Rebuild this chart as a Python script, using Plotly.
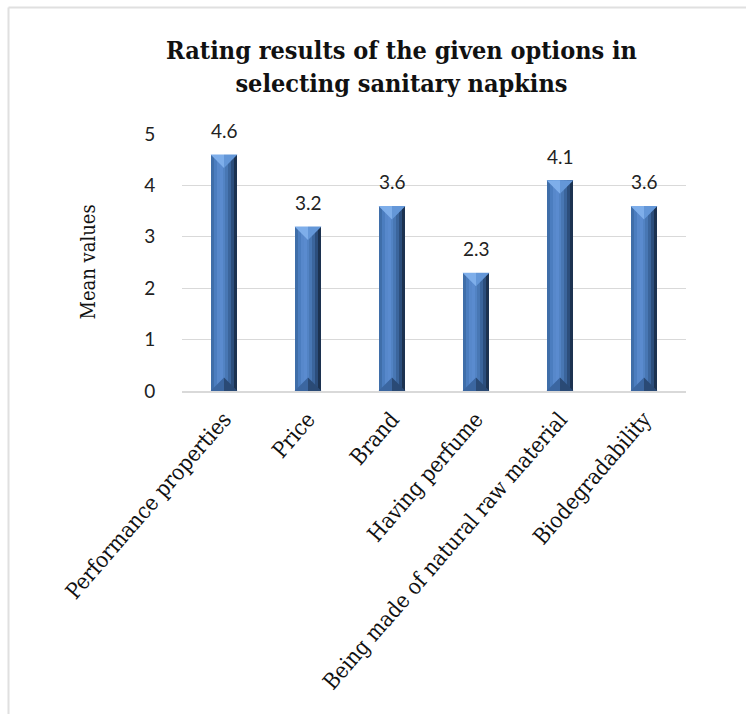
import plotly.graph_objects as go

# Survey data: mean rating for each option
categories = [
    "Performance properties",
    "Price",
    "Brand",
    "Having perfume",
    "Being made of natural raw material",
    "Biodegradability",
]
mean_values = [4.6, 3.2, 3.6, 2.3, 4.1, 3.6]
y_ticks = [0, 1, 2, 3, 4, 5]

# Figure geometry (pixels)
W, H = 746, 714
PL, PR = 182, 686      # plot area left/right
PT, PB = 134, 391      # plot area top/bottom
x_pos = list(range(len(categories)))
px_per_x = (PR - PL) / len(categories)
px_per_y = (PB - PT) / (y_ticks[-1] - y_ticks[0])

SERIF = "DejaVu Serif Condensed, DejaVu Serif, serif"
SANS = "Lato, Carlito, Liberation Sans, sans-serif"

fig = go.Figure()

# Bars: cylinder-like shading built from narrow overlaid strips
bar_w = 0.32
strip_colors = [
    "#3f6ea9", "#4b7dbf", "#5788cb", "#5a8bcf", "#5283c4",
    "#4877b4", "#3b659c", "#2c4e7c", "#1c3250",
]
ns = len(strip_colors)
sw = bar_w / ns
for k, c in enumerate(strip_colors):
    fig.add_trace(go.Bar(
        x=x_pos, y=mean_values,
        width=sw * (1.0 if k == ns - 1 else 1.15),
        offset=-bar_w / 2 + k * sw,
        marker=dict(color=c, line=dict(width=0)),
        hoverinfo="skip", showlegend=False,
    ))

# Bevel facets at top and bottom of each bar
hw = bar_w / 2
cap = hw * px_per_x / px_per_y


def facet(top, side):
    xs, ys = [], []
    for i, v in zip(x_pos, mean_values):
        base = v if top else 0.0
        apex = v - cap if top else cap
        edge = i - hw if side == "left" else i + hw
        xs += [edge, i, i, edge, None]
        ys += [base, base, apex, base, None]
    return xs, ys


for top, side, col in [
    (True, "left", "#7eaeea"),
    (True, "right", "#6497d8"),
    (False, "left", "#3b66a0"),
    (False, "right", "#2a4a75"),
]:
    xs, ys = facet(top, side)
    fig.add_trace(go.Scatter(
        x=xs, y=ys, mode="lines", fill="toself", fillcolor=col,
        line=dict(width=0, color=col), hoverinfo="skip", showlegend=False,
    ))

# Value labels above bars
for i, v in zip(x_pos, mean_values):
    fig.add_annotation(
        x=i, y=v, text=f"{v:.1f}", showarrow=False,
        yanchor="middle", yshift=24,
        font=dict(family=SANS, size=19, color="#222222"),
    )

# Title
fig.add_annotation(
    xref="paper", yref="paper",
    x=(401 - PL) / (PR - PL), y=(PB - 67) / (PB - PT),
    xanchor="center", yanchor="middle",
    text="Rating results of the given options in<br>selecting sanitary napkins",
    showarrow=False,
    font=dict(family=SERIF, size=25, color="#111111", weight="bold"),
)

# Y-axis title
fig.add_annotation(
    xref="paper", yref="paper",
    x=(87 - PL) / (PR - PL), y=0.5,
    xanchor="center", yanchor="middle",
    text="Mean values", textangle=-90, showarrow=False,
    font=dict(family=SERIF, size=20, color="#111111"),
)

# Light frame around the chart area
bx = (8.5 - PL) / (PR - PL)
by = (PB - 7.5) / (PB - PT)
fig.add_shape(type="line", xref="paper", yref="paper",
              x0=bx, y0=by, x1=bx, y1=(PB - 720) / (PB - PT),
              line=dict(color="#e0e0e0", width=2))
fig.add_shape(type="line", xref="paper", yref="paper",
              x0=bx, y0=by, x1=(760 - PL) / (PR - PL), y1=by,
              line=dict(color="#e0e0e0", width=2))

fig.update_layout(
    width=W, height=H,
    margin=dict(l=PL, r=W - PR, t=PT, b=H - PB, autoexpand=False),
    paper_bgcolor="white", plot_bgcolor="white",
    barmode="overlay", bargap=0,
    showlegend=False,
)
fig.update_xaxes(
    range=[-0.5, len(categories) - 0.5],
    tickmode="array", tickvals=x_pos, ticktext=categories,
    tickangle=-49, ticks="outside", ticklen=5, tickcolor="rgba(0,0,0,0)",
    tickfont=dict(family=SERIF, size=22, color="#111111"),
    showgrid=False, zeroline=False,
    showline=True, linecolor="#d9d9d9", linewidth=1.5,
    fixedrange=True,
)
fig.update_yaxes(
    range=[y_ticks[0], y_ticks[-1]],
    tickmode="array", tickvals=y_ticks,
    ticks="outside", ticklen=22, tickcolor="rgba(0,0,0,0)",
    tickfont=dict(family=SANS, size=19, color="#222222"),
    showgrid=True, gridcolor="#d9d9d9", gridwidth=1.2,
    zeroline=False, showline=False,
    fixedrange=True,
)

fig.write_html("out.html", config={"displayModeBar": False})
